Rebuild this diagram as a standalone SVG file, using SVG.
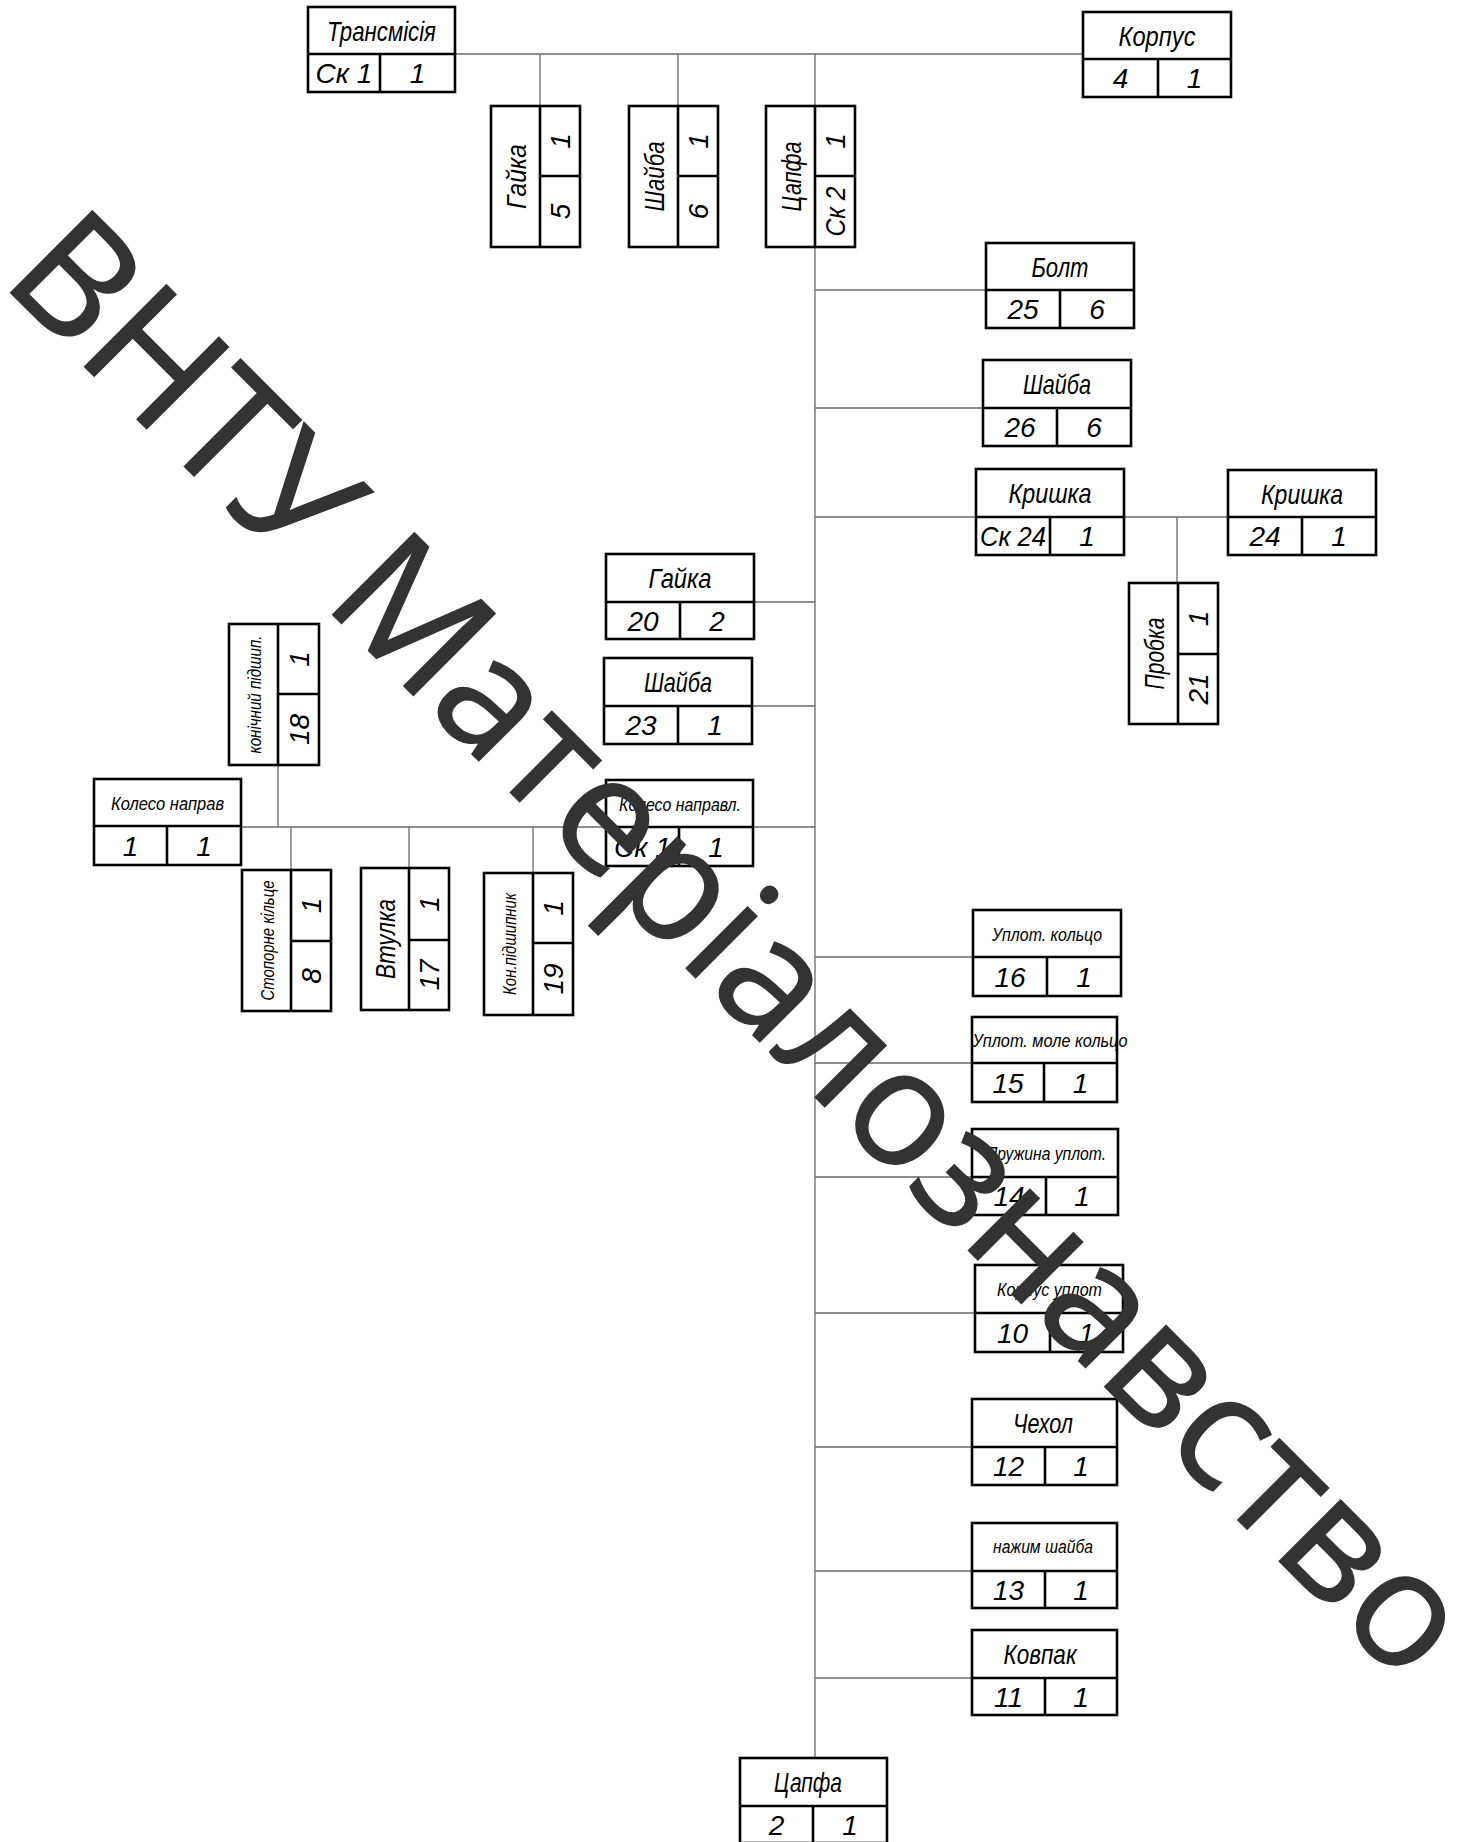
<svg xmlns="http://www.w3.org/2000/svg" width="1464" height="1842" viewBox="0 0 1464 1842">
<style>
.box{fill:none;stroke:#000;stroke-width:2.6}
.ln{fill:none;stroke:#000;stroke-width:2.6}
.cn{fill:none;stroke:#6a6a6a;stroke-width:1.3}
.t{font-family:"Liberation Sans",Arial,sans-serif;font-style:italic;text-anchor:middle;fill:#000}
.nm{font-size:28px}
.sm{font-size:19px}
.nu{font-size:28px}
.wm{font-family:"Open Sans","Noto Sans","DejaVu Sans",sans-serif;font-size:162px;fill:#333;stroke:#333;stroke-width:1.5}
</style>
<rect width="1464" height="1842" fill="#fff"/>
<g id="connectors">
<path class="cn" d="M455 54H1083M540 54V106M678 54V106M815 54V1758"/>
<path class="cn" d="M815 290H986M815 408H983M815 517H976M1124 517H1228M1177 517V583"/>
<path class="cn" d="M754 602H815M752 706H815M241 827H815"/>
<path class="cn" d="M278 765V827M291 827V870M409 827V868M533 827V873"/>
<path class="cn" d="M815 957H973M815 1063H972M815 1177H972M815 1313H975M815 1447H972M815 1571H972M815 1678H972"/>
</g>
<g id="n-transmisia"><rect class="box" x="308" y="7" width="147" height="85"/><path class="ln" d="M308 54H455M380 54V92"/>
<text class="t nm" x="381.5" y="40.5" textLength="109" lengthAdjust="spacingAndGlyphs">Трансмісія</text>
<text class="t nu" x="344" y="83">Ск 1</text><text class="t nu" x="417.5" y="83">1</text></g>
<g id="n-korpus"><rect class="box" x="1083" y="12" width="148" height="85"/><path class="ln" d="M1083 59H1231M1158 59V97"/>
<text class="t nm" x="1157" y="45.5" textLength="77" lengthAdjust="spacingAndGlyphs">Корпус</text>
<text class="t nu" x="1120.5" y="88">4</text><text class="t nu" x="1194.5" y="88">1</text></g>
<g id="n-gaika5"><rect class="box" x="491" y="106" width="89" height="141"/><path class="ln" d="M540 106V247M540 176H580"/>
<text class="t nm" transform="translate(515.5 176.5) rotate(-90)" x="0" y="10" textLength="65" lengthAdjust="spacingAndGlyphs">Гайка</text>
<text class="t nu" transform="translate(560 141) rotate(-90)" x="0" y="10">1</text>
<text class="t nu" transform="translate(560 211.5) rotate(-90)" x="0" y="10">5</text></g>
<g id="n-shaiba6"><rect class="box" x="629" y="106" width="89" height="141"/><path class="ln" d="M678 106V247M678 176H718"/>
<text class="t nm" transform="translate(653.5 176.5) rotate(-90)" x="0" y="10" textLength="70" lengthAdjust="spacingAndGlyphs">Шайба</text>
<text class="t nu" transform="translate(698 141) rotate(-90)" x="0" y="10">1</text>
<text class="t nu" transform="translate(698 211.5) rotate(-90)" x="0" y="10">6</text></g>
<g id="n-tsapfa-sk2"><rect class="box" x="766" y="106" width="89" height="141"/><path class="ln" d="M815 106V247M815 176H855"/>
<text class="t nm" transform="translate(790.5 176.5) rotate(-90)" x="0" y="10" textLength="70" lengthAdjust="spacingAndGlyphs">Цапфа</text>
<text class="t nu" transform="translate(835 141) rotate(-90)" x="0" y="10">1</text>
<text class="t nu" transform="translate(835 211.5) rotate(-90)" x="0" y="10" textLength="50" lengthAdjust="spacingAndGlyphs">Ск 2</text></g>
<g id="n-bolt"><rect class="box" x="986" y="243" width="148" height="85"/><path class="ln" d="M986 290H1134M1060 290V328"/>
<text class="t nm" x="1060" y="276.5" textLength="57" lengthAdjust="spacingAndGlyphs">Болт</text>
<text class="t nu" x="1023" y="319">25</text><text class="t nu" x="1097" y="319">6</text></g>
<g id="n-shaiba26"><rect class="box" x="983" y="360" width="148" height="86"/><path class="ln" d="M983 408H1131M1057 408V446"/>
<text class="t nm" x="1057" y="394" textLength="68" lengthAdjust="spacingAndGlyphs">Шайба</text>
<text class="t nu" x="1020" y="437">26</text><text class="t nu" x="1094" y="437">6</text></g>
<g id="n-kryshka-sk24"><rect class="box" x="976" y="469" width="148" height="86"/><path class="ln" d="M976 517H1124M1050 517V555"/>
<text class="t nm" x="1050" y="503" textLength="83" lengthAdjust="spacingAndGlyphs">Кришка</text>
<text class="t nu" x="1013" y="546" textLength="66" lengthAdjust="spacingAndGlyphs">Ск 24</text><text class="t nu" x="1087" y="546">1</text></g>
<g id="n-kryshka24"><rect class="box" x="1228" y="470" width="148" height="85"/><path class="ln" d="M1228 517H1376M1302 517V555"/>
<text class="t nm" x="1302" y="503.5" textLength="82" lengthAdjust="spacingAndGlyphs">Кришка</text>
<text class="t nu" x="1265" y="546">24</text><text class="t nu" x="1339" y="546">1</text></g>
<g id="n-probka"><rect class="box" x="1129" y="583" width="89" height="141"/><path class="ln" d="M1178 583V724M1178 654H1218"/>
<text class="t nm" transform="translate(1153.5 653.5) rotate(-90)" x="0" y="10" textLength="72" lengthAdjust="spacingAndGlyphs">Пробка</text>
<text class="t nu" transform="translate(1198 618.5) rotate(-90)" x="0" y="10">1</text>
<text class="t nu" transform="translate(1198 689) rotate(-90)" x="0" y="10">21</text></g>
<g id="n-gaika20"><rect class="box" x="606" y="554" width="148" height="85"/><path class="ln" d="M606 602H754M680 602V639"/>
<text class="t nm" x="680" y="588" textLength="63" lengthAdjust="spacingAndGlyphs">Гайка</text>
<text class="t nu" x="643" y="630.5">20</text><text class="t nu" x="717" y="630.5">2</text></g>
<g id="n-shaiba23"><rect class="box" x="604" y="658" width="148" height="86"/><path class="ln" d="M604 706H752M678 706V744"/>
<text class="t nm" x="678" y="692" textLength="68" lengthAdjust="spacingAndGlyphs">Шайба</text>
<text class="t nu" x="641" y="735">23</text><text class="t nu" x="715" y="735">1</text></g>
<g id="n-koleso-sk1"><rect class="box" x="606" y="780" width="147" height="86"/><path class="ln" d="M606 827H753M679 827V866"/>
<text class="t sm" x="680" y="810.5" textLength="122" lengthAdjust="spacingAndGlyphs">Колесо направл.</text>
<text class="t nu" x="642.5" y="856.5">Ск 1</text><text class="t nu" x="716" y="856.5">1</text></g>
<g id="n-koleso1"><rect class="box" x="94" y="779" width="147" height="86"/><path class="ln" d="M94 826H241M167 826V865"/>
<text class="t sm" x="167.5" y="809.5" textLength="113" lengthAdjust="spacingAndGlyphs">Колесо направ</text>
<text class="t nu" x="130.5" y="855.5">1</text><text class="t nu" x="204" y="855.5">1</text></g>
<g id="n-konich18"><rect class="box" x="229" y="624" width="90" height="141"/><path class="ln" d="M278 624V765M278 694H319"/>
<text class="t sm" transform="translate(253.5 694.5) rotate(-90)" x="0" y="7" textLength="118" lengthAdjust="spacingAndGlyphs">конічний підшип.</text>
<text class="t nu" transform="translate(298.5 659) rotate(-90)" x="0" y="10">1</text>
<text class="t nu" transform="translate(298.5 729.5) rotate(-90)" x="0" y="10">18</text></g>
<g id="n-stopor8"><rect class="box" x="242" y="870" width="89" height="141"/><path class="ln" d="M291 870V1011M291 941H331"/>
<text class="t sm" transform="translate(266.5 940.5) rotate(-90)" x="0" y="7" textLength="120" lengthAdjust="spacingAndGlyphs">Стопорне кільце</text>
<text class="t nu" transform="translate(311 905.5) rotate(-90)" x="0" y="10">1</text>
<text class="t nu" transform="translate(311 976) rotate(-90)" x="0" y="10">8</text></g>
<g id="n-vtulka17"><rect class="box" x="361" y="868" width="88" height="142"/><path class="ln" d="M409 868V1010M409 940H449"/>
<text class="t nm" transform="translate(385 939) rotate(-90)" x="0" y="10" textLength="80" lengthAdjust="spacingAndGlyphs">Втулка</text>
<text class="t nu" transform="translate(429 904) rotate(-90)" x="0" y="10">1</text>
<text class="t nu" transform="translate(429 975) rotate(-90)" x="0" y="10">17</text></g>
<g id="n-konpid19"><rect class="box" x="484" y="873" width="89" height="142"/><path class="ln" d="M533 873V1015M533 943H573"/>
<text class="t sm" transform="translate(508.5 944) rotate(-90)" x="0" y="7" textLength="102" lengthAdjust="spacingAndGlyphs">Кон.підшипник</text>
<text class="t nu" transform="translate(553 908) rotate(-90)" x="0" y="10">1</text>
<text class="t nu" transform="translate(553 979) rotate(-90)" x="0" y="10">19</text></g>
<g id="n-uplot16"><rect class="box" x="973" y="910" width="148" height="86"/><path class="ln" d="M973 957H1121M1047 957V996"/>
<text class="t sm" x="1047" y="940.5" textLength="110" lengthAdjust="spacingAndGlyphs">Уплот. кольцо</text>
<text class="t nu" x="1010" y="986.5">16</text><text class="t nu" x="1084" y="986.5">1</text></g>
<g id="n-uplot15"><rect class="box" x="972" y="1017" width="145" height="85"/><path class="ln" d="M972 1063H1117M1044 1063V1102"/>
<text class="t sm" x="1050" y="1047" textLength="155" lengthAdjust="spacingAndGlyphs">Уплот. моле кольцо</text>
<text class="t nu" x="1008" y="1092.5">15</text><text class="t nu" x="1080.5" y="1092.5">1</text></g>
<g id="n-pruzhyna14"><rect class="box" x="972" y="1129" width="146" height="86"/><path class="ln" d="M972 1177H1118M1046 1177V1215"/>
<text class="t sm" x="1046" y="1160" textLength="120" lengthAdjust="spacingAndGlyphs">Пружина уплот.</text>
<text class="t nu" x="1009" y="1206">14</text><text class="t nu" x="1082" y="1206">1</text></g>
<g id="n-korpus10"><rect class="box" x="975" y="1265" width="148" height="87"/><path class="ln" d="M975 1313H1123M1050 1313V1352"/>
<text class="t sm" x="1049.5" y="1296" textLength="105" lengthAdjust="spacingAndGlyphs">Корпус уплот</text>
<text class="t nu" x="1012.5" y="1342.5">10</text><text class="t nu" x="1086.5" y="1342.5">1</text></g>
<g id="n-chekhol12"><rect class="box" x="972" y="1399" width="145" height="86"/><path class="ln" d="M972 1447H1117M1045 1447V1485"/>
<text class="t nm" x="1043" y="1433" textLength="60" lengthAdjust="spacingAndGlyphs">Чехол</text>
<text class="t nu" x="1008.5" y="1476">12</text><text class="t nu" x="1081" y="1476">1</text></g>
<g id="n-nazhym13"><rect class="box" x="972" y="1523" width="145" height="85"/><path class="ln" d="M972 1571H1117M1045 1571V1608"/>
<text class="t sm" x="1043" y="1553" textLength="100" lengthAdjust="spacingAndGlyphs">нажим шайба</text>
<text class="t nu" x="1008.5" y="1599.5">13</text><text class="t nu" x="1081" y="1599.5">1</text></g>
<g id="n-kovpak11"><rect class="box" x="972" y="1630" width="145" height="85"/><path class="ln" d="M972 1678H1117M1045 1678V1715"/>
<text class="t nm" x="1040" y="1664" textLength="73" lengthAdjust="spacingAndGlyphs">Ковпак</text>
<text class="t nu" x="1008.5" y="1706.5">11</text><text class="t nu" x="1081" y="1706.5">1</text></g>
<g id="n-tsapfa2"><rect class="box" x="740" y="1758" width="147" height="85"/><path class="ln" d="M740 1806H887M813 1806V1843"/>
<text class="t nm" x="808" y="1792" textLength="68" lengthAdjust="spacingAndGlyphs">Цапфа</text>
<text class="t nu" x="776.5" y="1834.5">2</text><text class="t nu" x="850" y="1834.5">1</text></g>
<g id="watermark"><text class="wm" transform="translate(10 292) rotate(45)" x="-15" y="0">ВНТУ Матеріалознавство</text></g>
</svg>
